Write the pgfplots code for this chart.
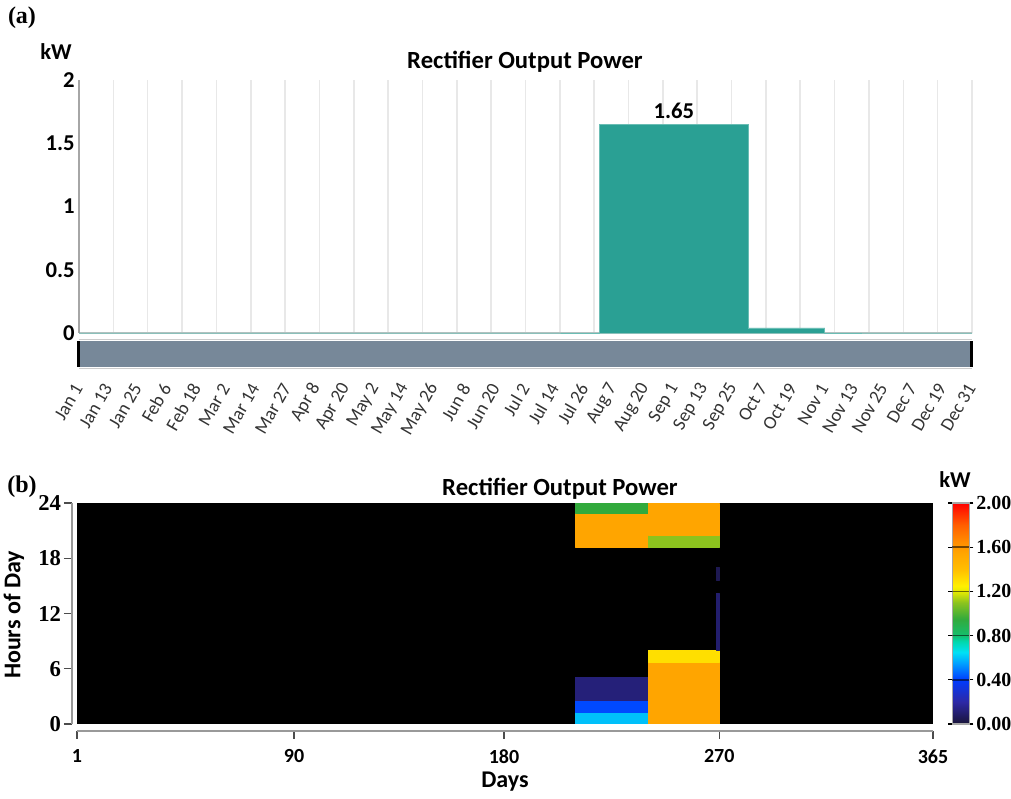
\documentclass[border=0pt]{standalone}
\usepackage{pgfplots}
\pgfplotsset{compat=1.18}
\usepackage{pgfplotstable}
\usepackage{fontspec}
\setmainfont{Carlito}
\newfontfamily\serif{Liberation Serif}
\definecolor{barteal}{RGB}{42,160,148}
\definecolor{slidergray}{RGB}{119,136,153}
\definecolor{gridc}{RGB}{232,232,232}

% monthly mean rectifier output (kW), step starts at first day of month
\pgfplotstableread{
day kw
1 0
32 0
60 0
91 0
121 0
152 0
182 0
213 1.65
244 1.65
274 0.04
305 0
335 0
365 0
}\monthly

% heat map patches: rectangles (4 corners each), day, hour, kW
\pgfplotstableread{
x y c
213 0 0.60
244 0 0.60
244 1.3 0.60
213 1.3 0.60
213 1.3 0.42
244 1.3 0.42
244 2.6 0.42
213 2.6 0.42
213 2.6 0.12
244 2.6 0.12
244 5.1 0.12
213 5.1 0.12
213 19.2 1.55
244 19.2 1.55
244 22.9 1.55
213 22.9 1.55
213 22.9 0.95
244 22.9 0.95
244 24 0.95
213 24 0.95
244 0 1.55
274 0 1.55
274 6.7 1.55
244 6.7 1.55
244 6.7 1.30
274 6.7 1.30
274 8.0 1.30
244 8.0 1.30
244 19.2 1.10
274 19.2 1.10
274 20.5 1.10
244 20.5 1.10
244 20.5 1.55
274 20.5 1.55
274 24 1.55
244 24 1.55
273 8.0 0.10
274 8.0 0.10
274 14.2 0.10
273 14.2 0.10
273 15.6 0.05
274 15.6 0.05
274 17.0 0.05
273 17.0 0.05
}\heat

\begin{document}
\begin{tikzpicture}
\path[use as bounding box] (0,0) rectangle (758.25pt,599.25pt);

% range slider under chart (a)
\fill[slidergray] (59.25pt,324pt) rectangle (729pt,343.5pt);
\draw[gray!40, line width=0.8pt] (59.25pt,344.5pt) -- (729pt,344.5pt);
\draw[gray!40, line width=0.8pt] (59.25pt,323pt) -- (729pt,323pt);
\fill[black] (57.75pt,324pt) rectangle (60pt,343.5pt);
\fill[black] (727.5pt,324pt) rectangle (729.75pt,343.5pt);

% ---------- (a) ----------
\begin{axis}[
  at={(59.25pt,349.5pt)}, anchor=south west,
  scale only axis, width=669.75pt, height=189.75pt,
  xmin=1, xmax=365, ymin=0, ymax=2,
  axis lines*=left,
  axis line style={draw=gray!70, line width=0.9pt},
  x axis line style={draw=gray!45, line width=1.2pt},
  ytick={0,0.5,1,1.5,2},
  yticklabels={0,0.5,1,1.5,2},
  yticklabel style={font=\fontsize{17}{17}\selectfont\bfseries, inner sep=3pt},
  major tick length=0pt,
  xtick={1,13,25,37,49,61,73,86,98,110,122,134,146,159,171,183,195,207,219,232,244,256,268,280,292,305,317,329,341,353,365},
  xticklabels={Jan 1,Jan 13,Jan 25,Feb 6,Feb 18,Mar 2,Mar 14,Mar 27,Apr 8,Apr 20,May 2,May 14,May 26,Jun 8,Jun 20,Jul 2,Jul 14,Jul 26,Aug 7,Aug 20,Sep 1,Sep 13,Sep 25,Oct 7,Oct 19,Nov 1,Nov 13,Nov 25,Dec 7,Dec 19,Dec 31},
  xticklabel style={yshift=-38pt, rotate=60, anchor=east, font=\fontsize{14}{14}\selectfont, text=black!80, inner sep=1pt},
  minor xtick={1,15,...,365},
  xminorgrids, minor grid style={gridc, line width=1.2pt},
  minor tick length=0pt,
  clip=false,
]
\addplot[const plot, fill=barteal, draw=barteal!70!white, line width=0.6pt] table[x=day, y=kw] {\monthly} \closedcycle;
\node[anchor=south, font=\fontsize{17}{17}\selectfont\bfseries, inner sep=4pt] at (axis cs:243.5,1.65) {1.65};
\end{axis}

\node[font=\serif\fontsize{18}{18}\selectfont\bfseries] at (16.5pt,585.75pt) {(a)};
\node[font=\fontsize{17}{17}\selectfont\bfseries] at (42pt,560.25pt) {kW};
\node[font=\fontsize{18.5}{18.5}\selectfont\bfseries] at (393.75pt,553pt) {Rectifier Output Power};

% ---------- (b) ----------
\begin{axis}[
  at={(57.75pt,56.25pt)}, anchor=south west,
  scale only axis, width=642pt, height=165.75pt,
  xmin=1, xmax=365, ymin=0, ymax=24,
  axis background/.style={fill=black},
  axis lines*=left,
  axis line style={draw=gray!80, line width=1.3pt},
  x axis line style={yshift=-5pt},
  y axis line style={xshift=-3.75pt},
  xtick={1,93.3,182.6,274.1,365}, xticklabels={1,90,180,270,365},
  ytick={0,6,12,18,24}, yticklabels={0,6,12,18,24},
  tick align=outside, major tick length=6pt,
  xtick style={gray!60!black, line width=1pt, yshift=-5pt},
  ytick style={gray!60!black, line width=1pt, xshift=-3.75pt},
  xticklabel style={font=\fontsize{15}{15}\selectfont\bfseries, inner sep=2pt, yshift=-11pt},
  yticklabel style={font=\serif\fontsize{17}{17}\selectfont\bfseries, inner sep=2pt, xshift=-3.75pt},
  point meta min=0, point meta max=2,
  colormap={homer}{
    rgb255(0cm)=(25,20,55)
    rgb255(4cm)=(45,40,165)
    rgb255(8cm)=(0,60,255)
    rgb255(11cm)=(0,160,255)
    rgb255(13cm)=(0,225,245)
    rgb255(15cm)=(0,215,170)
    rgb255(16cm)=(20,190,110)
    rgb255(19cm)=(50,170,60)
    rgb255(22cm)=(140,195,30)
    rgb255(24cm)=(230,235,0)
    rgb255(25cm)=(255,240,0)
    rgb255(28cm)=(255,190,0)
    rgb255(31cm)=(255,165,0)
    rgb255(33cm)=(255,140,0)
    rgb255(36cm)=(255,95,0)
    rgb255(40cm)=(255,0,0)
  },
  colorbar,
  colorbar style={
    at={(parent axis.north east)}, anchor=north west, xshift=6pt,
    width=12.75pt,
    ytick={0,0.4,0.8,1.2,1.6,2},
    yticklabels={0.00,0.40,0.80,1.20,1.60,2.00},
    yticklabel style={font=\serif\fontsize{15}{15}\selectfont\bfseries, inner sep=2pt},
    axis line style={draw=gray!70, line width=0.8pt},
    tick style={black, line width=1pt},
    major tick length=3pt,
    tick align=outside,
    after end axis/.code={
      \foreach \v in {0.2,0.4,0.6,0.8}
        \draw[black, opacity=0.55, line width=1.3pt] (rel axis cs:0,\v) -- (rel axis cs:1,\v);
    },
  },
]
\addplot[patch, patch type=rectangle, shader=flat, point meta=explicit] table[x=x, y=y, meta=c] {\heat};
\end{axis}

\node[font=\serif\fontsize{18}{18}\selectfont\bfseries] at (16.5pt,234pt) {(b)};
\node[font=\fontsize{18.5}{18.5}\selectfont\bfseries] at (420pt,233pt) {Rectifier Output Power};
\node[font=\fontsize{17}{17}\selectfont\bfseries] at (716.25pt,239.25pt) {kW};
\node[font=\fontsize{18}{18}\selectfont\bfseries, rotate=90] at (10.5pt,138pt) {Hours of Day};
\node[font=\fontsize{18}{18}\selectfont\bfseries] at (378.75pt,13pt) {Days};
\end{tikzpicture}
\end{document}
